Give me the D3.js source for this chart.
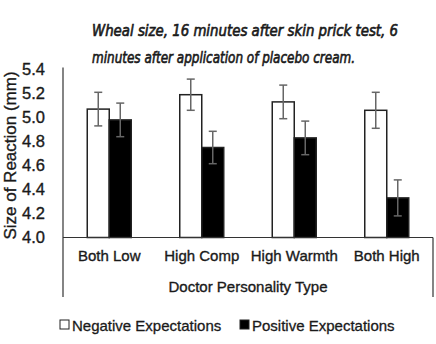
<!DOCTYPE html>
<html><head><meta charset="utf-8">
<script src="https://cdn.jsdelivr.net/npm/d3@7"></script>
<style>body{margin:0;background:#fff}svg{display:block}</style>
</head><body>
<script>
const categories = ["Both Low", "High Comp", "High Warmth", "Both High"];
const seriesNames = ["Negative Expectations", "Positive Expectations"];
const negative = [5.07, 5.19, 5.13, 5.06];
const positive = [4.98, 4.75, 4.83, 4.33];
const negErr = [0.14, 0.13, 0.14, 0.15];
const posErr = [0.14, 0.135, 0.14, 0.15];
const yTicks = [4.0, 4.2, 4.4, 4.6, 4.8, 5.0, 5.2, 5.4];
const titleLines = ["Wheal size, 16 minutes after skin prick test, 6", "minutes after application of placebo cream."];

(function () {
const W = 436, H = 344;
const svg = d3.select("body").append("svg").attr("width", W).attr("height", H);
const pLeft = 63, pRight = 433, base = 237.5, pTop = 69.5, boxBottom = 297;
const font = "Liberation Sans, Arial, sans-serif";
const ink = "#1a1a1a";

const x = d3.scaleBand().domain(categories).range([pLeft, pRight]);
const xs = d3.scaleBand().domain(seriesNames).range([0, 44]);
const y = d3.scaleLinear().domain([4.0, 5.4]).range([base, pTop]);

function thick(sel, w) { return sel.attr("stroke", ink).attr("stroke-width", w).attr("paint-order", "stroke"); }

// title
thick(svg.selectAll("text.title").data(titleLines).enter().append("text")
  .attr("x", 92).attr("y", (d, i) => 36 + i * 27)
  .attr("font-family", "DejaVu Sans Condensed, DejaVu Sans, sans-serif")
  .attr("font-style", "italic").attr("font-size", 15).attr("fill", ink)
  .attr("textLength", (d, i) => i === 0 ? 306 : 263).attr("lengthAdjust", "spacingAndGlyphs")
  .text(d => d), 0.6);

// y axis
const yAxis = d3.axisLeft(y).tickValues(yTicks).tickFormat(d3.format(".1f")).tickSize(0).tickPadding(18);
const gy = svg.append("g").attr("transform", `translate(${pLeft},0)`).call(yAxis);
gy.select(".domain").remove();
thick(gy.selectAll("text").attr("font-family", font).attr("font-size", 16.5).attr("fill", ink), 0.35);

// y title
thick(svg.append("text").attr("transform", `translate(16,${(base + pTop) / 2 + 2}) rotate(-90)`)
  .attr("text-anchor", "middle").attr("font-family", font).attr("font-size", 17).attr("fill", ink)
  .text("Size of Reaction (mm)"), 0.35);

// bars
const data = categories.map((c, i) => [
  {c, s: seriesNames[0], v: negative[i], e: negErr[i]},
  {c, s: seriesNames[1], v: positive[i], e: posErr[i]}
]).flat();
const off = (x.bandwidth() - 44) / 2;
svg.selectAll("rect.bar").data(data).enter().append("rect")
  .attr("x", d => x(d.c) + off + xs(d.s))
  .attr("y", d => y(d.v))
  .attr("width", xs.bandwidth())
  .attr("height", d => base - y(d.v))
  .attr("fill", d => d.s === seriesNames[0] ? "#fff" : "#000")
  .attr("stroke", "#222").attr("stroke-width", 1.5);

// error bars
const eg = svg.selectAll("g.err").data(data).enter().append("g")
  .attr("transform", d => `translate(${x(d.c) + off + xs(d.s) + xs.bandwidth() / 2},0)`)
  .attr("stroke", "#666").attr("stroke-width", 1.5);
eg.append("line").attr("y1", d => y(d.v + d.e)).attr("y2", d => y(d.v - d.e));
eg.append("line").attr("x1", -4).attr("x2", 4).attr("y1", d => y(d.v + d.e)).attr("y2", d => y(d.v + d.e));
eg.append("line").attr("x1", -4).attr("x2", 4).attr("y1", d => y(d.v - d.e)).attr("y2", d => y(d.v - d.e));

// axis lines / box
const ax = svg.append("g").attr("stroke", "#333").attr("stroke-width", 1.2).attr("fill", "none");
ax.append("line").attr("x1", pLeft).attr("x2", pLeft).attr("y1", pTop - 2).attr("y2", boxBottom);
ax.append("line").attr("x1", pLeft).attr("x2", pRight).attr("y1", base).attr("y2", base);
ax.append("line").attr("x1", pRight).attr("x2", pRight).attr("y1", base).attr("y2", boxBottom);

// category labels
thick(svg.selectAll("text.cat").data(categories).enter().append("text")
  .attr("x", d => x(d) + x.bandwidth() / 2).attr("y", 261)
  .attr("text-anchor", "middle").attr("font-family", font).attr("font-size", 15).attr("fill", ink)
  .text(d => d), 0.35);
thick(svg.append("text").attr("x", 248).attr("y", 292)
  .attr("text-anchor", "middle").attr("font-family", font).attr("font-size", 15).attr("fill", ink)
  .text("Doctor Personality Type"), 0.35);

// legend
const lg = svg.append("g");
const legX = [60, 240];
seriesNames.forEach((s, i) => {
  lg.append("rect").attr("x", legX[i]).attr("y", 320).attr("width", 9).attr("height", 9)
    .attr("fill", i === 0 ? "#fff" : "#000").attr("stroke", "#222").attr("stroke-width", 1);
  thick(lg.append("text").attr("x", legX[i] + 12).attr("y", 330.5)
    .attr("font-family", font).attr("font-size", 15).attr("fill", ink).text(s), 0.3);
});
})();
</script>
</body></html>
